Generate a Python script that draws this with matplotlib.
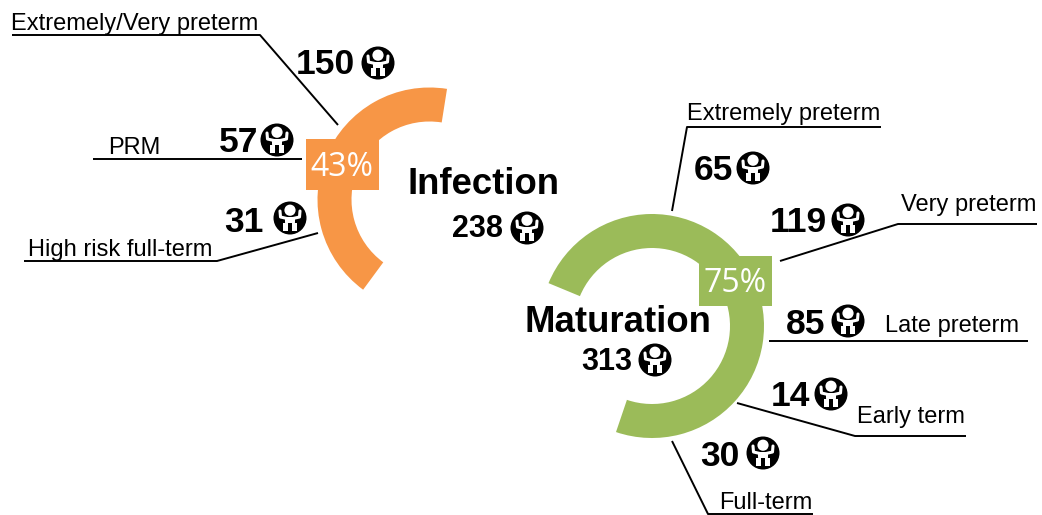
import matplotlib
matplotlib.use("Agg")
import matplotlib.pyplot as plt
from matplotlib.patches import Wedge, Rectangle, Circle, FancyBboxPatch

plt.rcParams["font.family"] = ["Liberation Sans", "DejaVu Sans"]

# data
group_names = ["Infection", "Maturation"]
group_totals = [238, 313]
group_percent = [43, 75]

infection_labels = ["Extremely/Very preterm", "PRM", "High risk full-term"]
infection_counts = [150, 57, 31]

maturation_labels = ["Extremely preterm", "Very preterm", "Late preterm", "Early term", "Full-term"]
maturation_counts = [65, 119, 85, 14, 30]

ORANGE = "#F79646"
GREEN = "#9BBB59"


def baby_icon(ax, x, y, r=16.5):
    """black disc with a small white baby in it, x/y is the centre"""
    ax.add_patch(Circle((x, y), r, fc="black", ec="none", zorder=5))
    s = r / 16.5
    # head
    ax.add_patch(Circle((x, y - 7.8 * s), 5.6 * s, fc="white", ec="none", zorder=6))
    # body
    ax.add_patch(FancyBboxPatch((x - 4.5 * s, y - 0.5 * s), 9 * s, 5 * s, boxstyle="round,pad=0.5",
                                fc="white", ec="none", zorder=6))
    # arms
    for side in (-1, 1):
        ax.plot([x + side * 10 * s, x + side * 9.5 * s, x + side * 3 * s],
                [y - 7 * s, y - 1 * s, y + 0.5 * s],
                color="white", lw=2.2 * s, solid_capstyle="round", zorder=6)
    # legs
    ax.add_patch(Rectangle((x - 7 * s, y + 5 * s), 5 * s, 7.5 * s, fc="white", ec="none", zorder=6))
    ax.add_patch(Rectangle((x + 2 * s, y + 5 * s), 5 * s, 7.5 * s, fc="white", ec="none", zorder=6))


def ring(ax, cx, cy, start, percent, color, clockwise=True):
    # y axis is flipped so a growing angle runs clockwise on screen
    sweep = percent / 100 * 355
    if clockwise:
        a, b = -start, -start + sweep
    else:
        a, b = -start - sweep, -start
    ax.add_patch(Wedge((cx, cy), 112, a, b, width=34, fc=color, ec="none", zorder=2))


def leader(ax, xs, ys):
    ax.plot(xs, ys, color="black", lw=1.4, solid_capstyle="butt", zorder=1)


fig = plt.figure(figsize=(10.42, 5.15), dpi=100)
ax = fig.add_axes([0, 0, 1, 1])
ax.set_xlim(0, 1042)
ax.set_ylim(515, 0)
ax.axis("off")

# rings with the percent boxes
ring(ax, 429.5, 199.5, 81, group_percent[0], ORANGE, clockwise=False)
ring(ax, 652, 326, 157.5, group_percent[1], GREEN)
ax.add_patch(Rectangle((306, 139), 73, 51, fc=ORANGE, ec="none", zorder=3))
ax.add_patch(Rectangle((699, 256), 73, 50, fc=GREEN, ec="none", zorder=3))
ax.text(342, 167, f"{group_percent[0]}%", color="white", fontsize=23, family="Open Sans",
        ha="center", va="center", zorder=4)
ax.text(735.5, 283, f"{group_percent[1]}%", color="white", fontsize=23, family="Open Sans",
        ha="center", va="center", zorder=4)

# leader lines
leader(ax, [12, 260, 338], [35, 35, 125])
leader(ax, [93, 302], [159, 159])
leader(ax, [24, 217, 318], [261, 261, 233])
leader(ax, [881, 687, 672], [127, 127, 211])
leader(ax, [780, 898, 1037], [261, 224, 224])
leader(ax, [769, 1028], [341, 341])
leader(ax, [737, 855, 966], [403, 436, 436])
leader(ax, [672, 708, 813], [441, 514, 514])

# category labels
LABEL_FS = 17
for lab, (x, y) in zip(infection_labels, [(135, 24), (134, 148), (120, 250)]):
    ax.text(x, y, lab, fontsize=LABEL_FS, ha="center", va="center", zorder=4)
for lab, (x, y) in zip(maturation_labels, [(784, 114), (969, 205), (952, 326), (911, 417), (766, 503)]):
    ax.text(x, y, lab, fontsize=LABEL_FS, ha="center", va="center", zorder=4)

# counts with the baby icon next to them
COUNT_FS = 25.5
for n, (x, y), (ix, iy) in zip(infection_counts,
                               [(355, 65), (258, 143), (264, 223)],
                               [(378, 63), (277, 140), (290, 218)]):
    ax.text(x, y, str(n), fontsize=COUNT_FS, fontweight="bold", ha="right", va="center", zorder=4)
    baby_icon(ax, ix, iy)
for n, (x, y), (ix, iy) in zip(maturation_counts,
                               [(733, 171), (827, 223), (825, 325), (810, 397), (740, 456)],
                               [(753, 168), (848, 220), (848, 321), (831, 394), (763, 453)]):
    ax.text(x, y, str(n), fontsize=COUNT_FS, fontweight="bold", ha="right", va="center", zorder=4)
    baby_icon(ax, ix, iy)

# group titles
ax.text(484, 185, group_names[0], fontsize=26.3, fontweight="bold", ha="center", va="center", zorder=4)
ax.text(618, 322, group_names[1], fontsize=26.3, fontweight="bold", ha="center", va="center", zorder=4)
ax.text(503, 229, str(group_totals[0]), fontsize=22, fontweight="bold", ha="right", va="center", zorder=4)
baby_icon(ax, 527, 228)
ax.text(632, 362, str(group_totals[1]), fontsize=22, fontweight="bold", ha="right", va="center", zorder=4)
baby_icon(ax, 655, 360)

fig.savefig("out.png", dpi=100)
